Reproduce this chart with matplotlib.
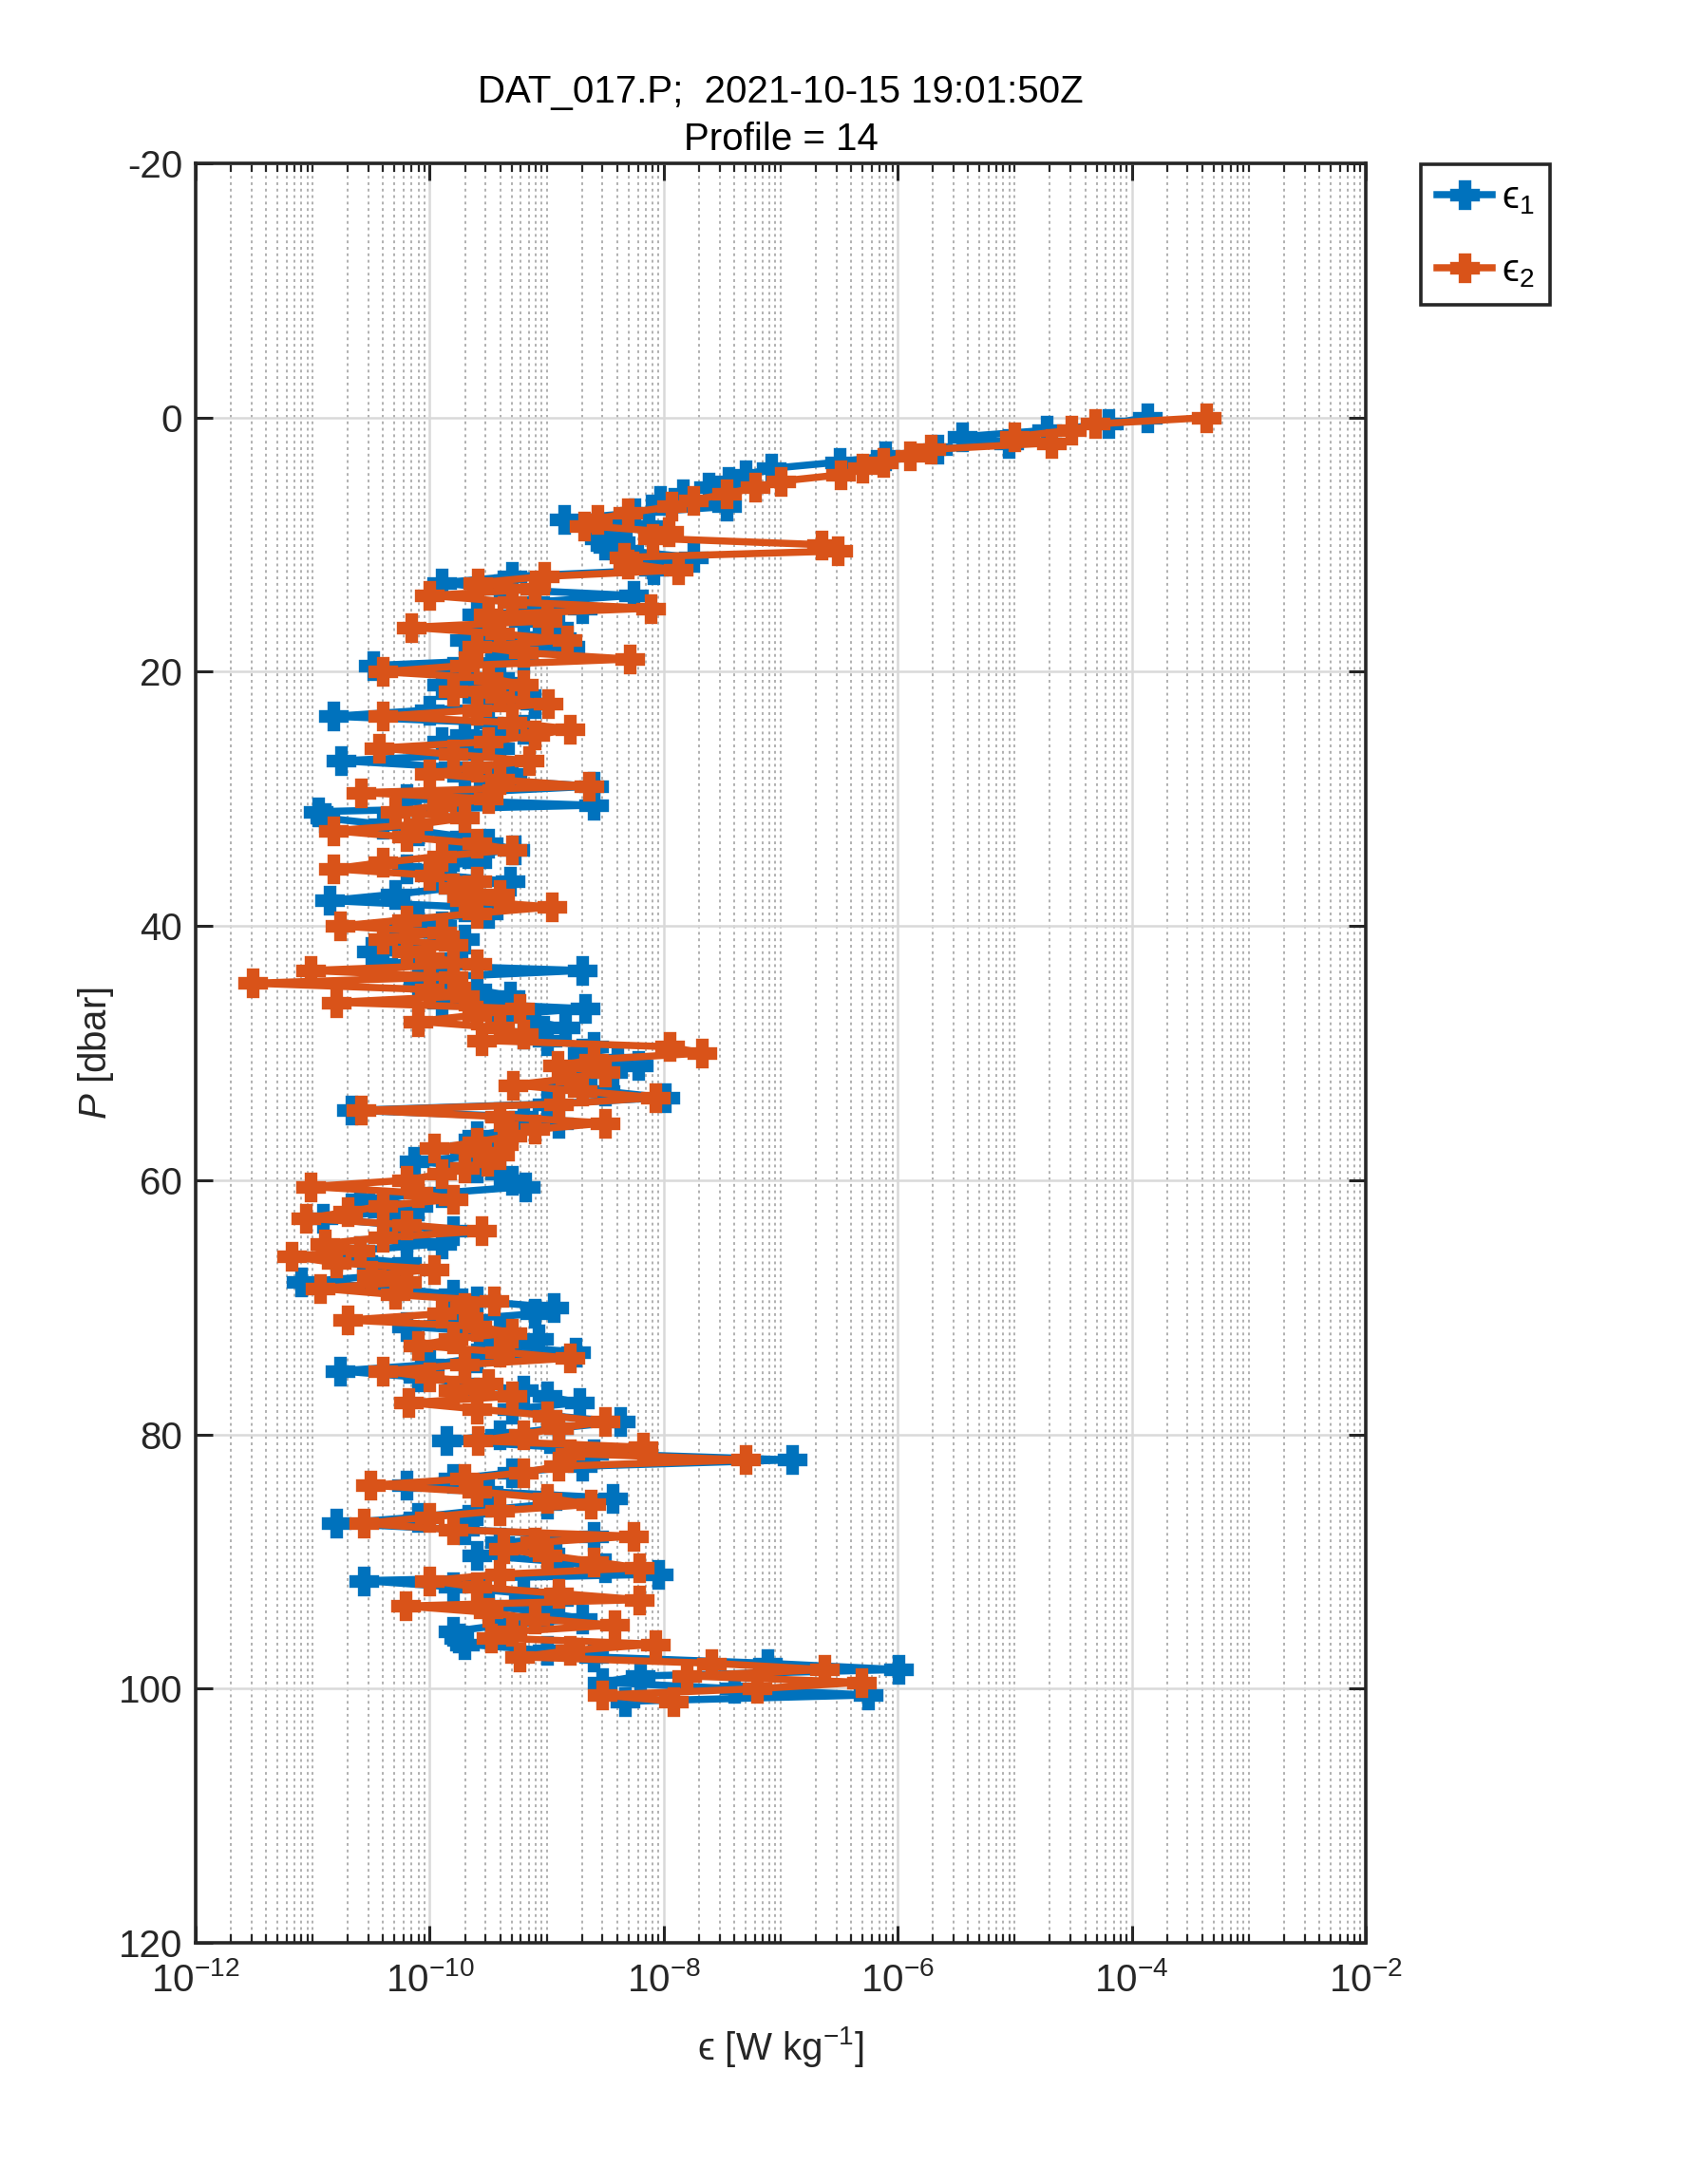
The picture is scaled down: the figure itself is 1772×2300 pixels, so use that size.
import numpy as np
import matplotlib
matplotlib.use("Agg")
import matplotlib.pyplot as plt
from matplotlib.ticker import LogFormatterSciNotation, FixedLocator, NullFormatter

plt.rcParams['font.family'] = ['Liberation Sans', 'DejaVu Sans']
plt.rcParams['mathtext.fontset'] = 'custom'
plt.rcParams['mathtext.rm'] = 'Liberation Sans'
plt.rcParams['mathtext.it'] = 'Liberation Sans:italic'
plt.rcParams['mathtext.fallback'] = 'cm'

title_text = "DAT_017.P;  2021-10-15 19:01:50Z\nProfile = 14"

# pressure of each dissipation estimate [dbar]
pres = [
    0.0, 0.5, 1.0, 1.5, 2.0, 2.5, 3.0, 3.5, 4.0, 4.5,
    5.0, 5.5, 6.0, 6.5, 7.0, 7.5, 8.0, 8.5, 9.0, 9.5,
    10.0, 10.5, 11.0, 11.5, 12.0, 12.5, 13.0, 13.5, 14.0, 14.5,
    15.0, 15.5, 16.0, 16.5, 17.0, 17.5, 18.0, 18.5, 19.0, 19.5,
    20.0, 20.5, 21.0, 21.5, 22.0, 22.5, 23.0, 23.5, 24.0, 24.5,
    25.0, 25.5, 26.0, 26.5, 27.0, 27.5, 28.0, 28.5, 29.0, 29.5,
    30.0, 30.5, 31.0, 31.5, 32.0, 32.5, 33.0, 33.5, 34.0, 34.5,
    35.0, 35.5, 36.0, 36.5, 37.0, 37.5, 38.0, 38.5, 39.0, 39.5,
    40.0, 40.5, 41.0, 41.5, 42.0, 42.5, 43.0, 43.5, 44.0, 44.5,
    45.0, 45.5, 46.0, 46.5, 47.0, 47.5, 48.0, 48.5, 49.0, 49.5,
    50.0, 50.5, 51.0, 51.5, 52.0, 52.5, 53.0, 53.5, 54.0, 54.5,
    55.0, 55.5, 56.0, 56.5, 57.0, 57.5, 58.0, 58.5, 59.0, 59.5,
    60.0, 60.5, 61.0, 61.5, 62.0, 62.5, 63.0, 63.5, 64.0, 64.5,
    65.0, 65.5, 66.0, 66.5, 67.0, 67.5, 68.0, 68.5, 69.0, 69.5,
    70.0, 70.5, 71.0, 71.5, 72.0, 72.5, 73.0, 73.5, 74.0, 74.5,
    75.0, 75.5, 76.0, 76.5, 77.0, 77.5, 78.0, 78.5, 79.0, 79.5,
    80.0, 80.5, 81.0, 81.5, 82.0, 82.5, 83.0, 83.5, 84.0, 84.5,
    85.0, 85.5, 86.0, 86.5, 87.0, 87.5, 88.0, 88.5, 89.0, 89.5,
    90.0, 90.5, 91.0, 91.5, 92.0, 92.5, 93.0, 93.5, 94.0, 94.5,
    95.0, 95.5, 96.0, 96.5, 97.0, 97.5, 98.0, 98.5, 99.0, 99.5,
    100.0, 100.5, 101.0,
]

# log10 of epsilon from shear probe 1
log_eps1 = [
    -3.87, -4.20, -4.73, -5.45, -5.05, -5.66, -6.11, -6.50, -7.08, -7.30,
    -7.45, -7.62, -7.84, -8.03, -7.46, -8.25, -8.85, -8.13, -8.40, -8.55,
    -8.50, -8.30, -7.75, -8.10, -8.09, -9.30, -9.90, -9.40, -8.26, -9.10,
    -8.70, -9.60, -9.20, -8.90, -9.00, -9.70, -8.80, -9.40, -9.20, -10.48,
    -9.80, -9.40, -9.90, -9.30, -9.60, -9.10, -10.00, -10.82, -9.50, -9.20,
    -9.70, -9.90, -9.40, -9.60, -10.76, -9.80, -9.30, -9.50, -8.60, -9.70,
    -10.20, -8.60, -10.95, -10.90, -10.40, -10.10, -9.70, -9.50, -9.27, -9.80,
    -9.60, -10.20, -9.90, -9.31, -9.80, -10.30, -10.86, -9.70, -9.50, -10.10,
    -9.90, -10.30, -9.70, -10.20, -10.50, -9.80, -10.40, -8.70, -9.90, -10.10,
    -9.60, -9.31, -9.90, -8.67, -9.40, -9.10, -8.84, -9.20, -9.00, -8.60,
    -8.70, -8.40, -8.22, -8.44, -8.70, -8.90, -8.50, -7.99, -9.00, -10.67,
    -9.20, -8.90, -9.30, -9.60, -9.40, -9.70, -9.50, -10.13, -9.60, -9.40,
    -9.30, -9.18, -9.90, -10.60, -10.10, -10.40, -10.91, -10.30, -9.80, -10.20,
    -9.90, -10.60, -10.80, -10.20, -10.50, -10.40, -11.10, -10.30, -9.80, -9.60,
    -8.94, -9.10, -9.80, -10.20, -9.40, -9.07, -9.50, -8.75, -9.60, -10.00,
    -10.77, -10.10, -9.70, -9.20, -9.00, -8.72, -9.30, -9.00, -8.37, -8.90,
    -9.40, -9.86, -8.90, -8.60, -6.90, -8.70, -9.30, -9.80, -10.20, -9.50,
    -8.44, -9.00, -9.60, -10.10, -10.80, -9.70, -8.60, -9.40, -9.00, -9.60,
    -8.90, -8.50, -8.05, -10.56, -9.80, -9.20, -8.90, -9.50, -9.00, -8.70,
    -9.40, -9.80, -9.75, -9.70, -9.00, -8.60, -7.11, -5.99, -8.20, -8.53,
    -7.40, -6.25, -8.33,
]

# log10 of epsilon from shear probe 2
log_eps2 = [
    -3.36, -4.31, -4.52, -5.00, -4.69, -5.72, -5.90, -6.12, -6.30, -6.49,
    -7.00, -7.22, -7.46, -7.75, -7.93, -8.31, -8.57, -8.68, -7.96, -8.10,
    -6.65, -6.51, -8.34, -8.31, -7.88, -9.02, -9.59, -9.10, -10.00, -9.30,
    -8.11, -9.50, -9.00, -10.16, -9.40, -8.83, -9.60, -9.20, -8.29, -9.70,
    -10.40, -9.50, -9.20, -9.80, -9.40, -8.99, -9.60, -10.40, -9.30, -8.80,
    -9.10, -9.50, -10.43, -9.80, -9.15, -9.60, -10.00, -9.40, -8.64, -10.59,
    -9.50, -9.90, -10.30, -9.70, -10.10, -10.82, -10.20, -9.60, -9.30, -9.90,
    -10.40, -10.82, -10.00, -9.60, -9.80, -9.40, -9.70, -8.96, -9.60, -10.20,
    -10.77, -9.90, -10.40, -9.80, -10.20, -10.00, -9.60, -11.02, -9.80, -11.51,
    -10.00, -9.70, -10.80, -9.23, -9.60, -10.10, -9.40, -9.20, -9.56, -7.95,
    -7.67, -8.60, -8.91, -8.50, -8.80, -9.29, -8.70, -8.07, -8.90, -10.59,
    -9.40, -8.50, -9.10, -9.30, -9.60, -9.96, -9.40, -9.51, -9.70, -9.90,
    -10.20, -11.02, -10.10, -9.80, -10.40, -10.70, -11.06, -10.20, -9.56, -10.40,
    -10.90, -10.60, -11.18, -10.80, -9.96, -10.50, -10.20, -10.94, -10.30, -9.45,
    -9.70, -9.90, -10.70, -9.60, -9.30, -9.80, -10.10, -9.40, -8.80, -9.70,
    -10.40, -10.00, -9.50, -9.80, -9.30, -10.18, -9.60, -9.00, -8.50, -8.90,
    -9.20, -9.59, -8.18, -8.80, -7.30, -8.90, -9.20, -9.70, -10.51, -9.60,
    -9.00, -8.62, -9.40, -10.00, -10.56, -9.80, -8.26, -9.10, -9.37, -9.00,
    -8.60, -8.21, -9.40, -10.00, -9.60, -8.90, -8.21, -10.21, -9.50, -9.10,
    -8.42, -9.30, -9.48, -8.07, -8.80, -9.23, -7.59, -6.63, -7.80, -6.31,
    -7.20, -8.53, -7.92,
]

n = min(len(pres), len(log_eps1), len(log_eps2))
P = np.array(pres[:n])
e1 = 10.0 ** np.array(log_eps1[:n])
e2 = 10.0 ** np.array(log_eps2[:n])

blue = '#0072BD'
orange = '#D95319'
ink = '#262626'
fs = 14.5

fig = plt.figure(figsize=(8.86, 11.5), dpi=200)
ax = fig.add_axes([0.1163, 0.1104, 0.6952, 0.8148])

ax.plot(e1, P, color=blue, lw=2.7, marker='P', ms=10, mew=1.2, mec=blue, label='ϵ$_1$')
ax.plot(e2, P, color=orange, lw=2.7, marker='P', ms=10, mew=1.2, mec=orange, label='ϵ$_2$')

ax.set_xscale('log')
ax.set_xlim(1e-12, 1e-2)
ax.set_ylim(120, -20)

major_x = [1e-12, 1e-10, 1e-8, 1e-6, 1e-4, 1e-2]
minor_x = [m * 10.0 ** d for d in range(-12, -2) for m in range(1, 10)
           if not (m == 1 and d % 2 == 0)]
ax.xaxis.set_major_locator(FixedLocator(major_x))
ax.xaxis.set_minor_locator(FixedLocator(minor_x))
ax.xaxis.set_major_formatter(LogFormatterSciNotation())
ax.xaxis.set_minor_formatter(NullFormatter())
ax.set_yticks([-20, 0, 20, 40, 60, 80, 100, 120])
ax.set_yticklabels(['-20', '0', '20', '40', '60', '80', '100', '120'])

ax.grid(True, which='major', color='#d9d9d9', lw=0.9, ls='-')
ax.grid(True, which='minor', axis='x', color='#b0b0b0', lw=0.7, ls=(0, (1.5, 2)))
ax.set_axisbelow(True)

ax.tick_params(which='both', direction='in', top=True, right=True,
               color=ink, labelsize=fs, labelcolor=ink)
ax.tick_params(which='major', length=6.5, width=1.1)
ax.tick_params(which='minor', length=3.3, width=0.8)
ax.tick_params(axis='x', which='major', pad=7)
ax.tick_params(axis='y', which='major', pad=5)
for s in ax.spines.values():
    s.set_linewidth(1.3)
    s.set_color(ink)

ax.set_xlabel('ϵ [W kg$^{-1}$]', fontsize=fs, color=ink, labelpad=10)
ax.set_ylabel('$P$ [dbar]', fontsize=fs, color=ink, labelpad=1)
ax.set_title(title_text, fontsize=fs, color='black', pad=5, linespacing=1.4)

leg = fig.legend(loc='upper left', bbox_to_anchor=(0.8445, 0.9248), fontsize=fs,
                 fancybox=False, framealpha=1, edgecolor=ink, borderaxespad=0,
                 handlelength=1.45, handletextpad=0.25, borderpad=0.4,
                 labelspacing=0.95)
leg.get_frame().set_linewidth(1.3)

fig.savefig('out.png', dpi=200, facecolor='white')
